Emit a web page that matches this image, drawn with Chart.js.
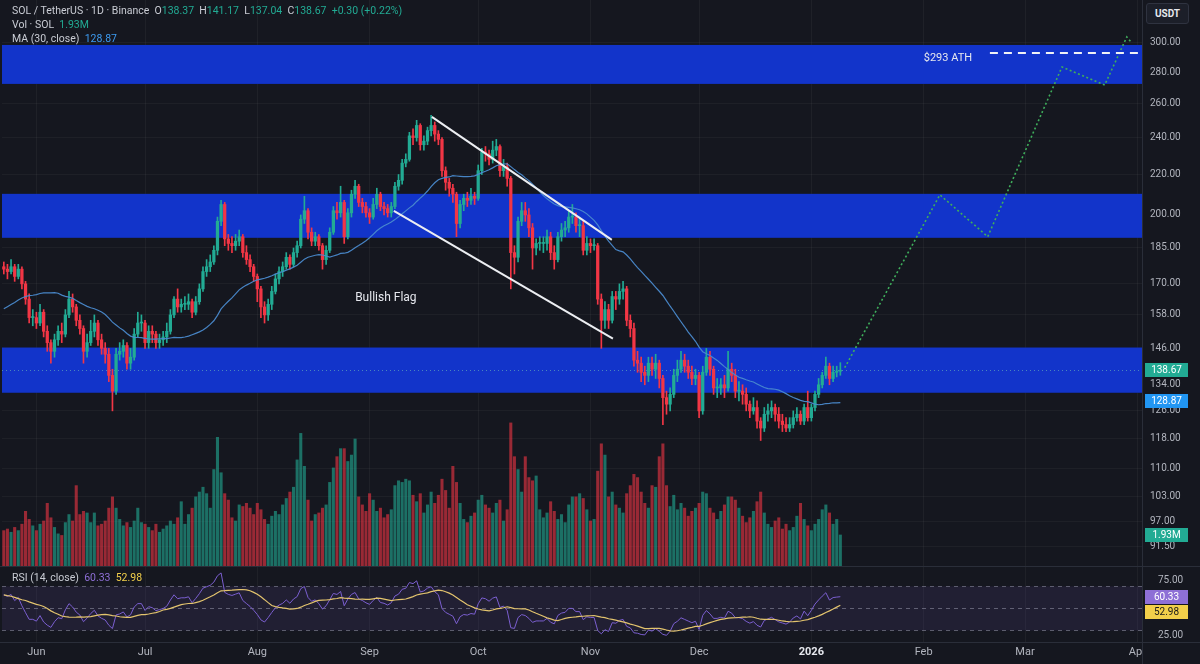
<!DOCTYPE html>
<html>
<head>
<meta charset="utf-8">
<title>SOL / TetherUS 1D</title>
<script src="https://cdn.jsdelivr.net/npm/chart.js@4.4.1/dist/chart.umd.min.js"></script>
<style>
  html, body { margin: 0; padding: 0; background: #15171f; }
  #wrap { position: relative; width: 1200px; height: 664px; overflow: hidden; background: #15171f; }
  #chart { display: block; }
  .legend { position: absolute; left: 12px; font: 10.5px Roboto, sans-serif; color: #c9ccd4; white-space: nowrap; line-height: 13px; }
  .up { color: #22ab94; }
  .ma { color: #3d9bf0; }
  .rsi { color: #8e6fd6; }
  .rsima { color: #f2cf4a; }
  #unit { position: absolute; left: 1146px; top: 3px; width: 41px; height: 19px; border: 1px solid #2f3340;
          border-radius: 3px; background: #1c1f29; color: #e6e8ee; font: bold 10px Roboto, sans-serif;
          text-align: center; line-height: 19px; }
</style>
</head>
<body>
<div id="wrap">
  <canvas id="chart" width="1200" height="664"></canvas>
  <div class="legend" style="top:4px">SOL / TetherUS · 1D · Binance&nbsp; O<span class="up">138.37</span>&nbsp; H<span class="up">141.17</span>&nbsp; L<span class="up">137.04</span>&nbsp; C<span class="up">138.67</span>&nbsp; <span class="up">+0.30 (+0.22%)</span></div>
  <div class="legend" style="top:18px">Vol · SOL&nbsp; <span class="up">1.93M</span></div>
  <div class="legend" style="top:32px">MA (30, close)&nbsp; <span class="ma">128.87</span></div>
  <div class="legend" style="top:571px">RSI (14, close)&nbsp; <span class="rsi">60.33</span>&nbsp; <span class="rsima">52.98</span></div>
  <div id="unit">USDT</div>
</div>
<script>
// daily closes before the visible range (24 Apr - 22 May), only used to warm up MA and RSI
const warmupCloses = [151, 152, 150, 147, 148, 146, 147, 152, 148, 146, 145, 146, 147, 145, 160,
  173, 173, 172, 175, 182, 177, 166, 170, 167, 167, 166, 166, 172, 177];

// visible candles, 23 May 2025 - 9 Jan 2026 (open = previous close)
const closes = [
  176, 175, 177, 173, 176, 170, 164, 157, 157, 155,
  159, 152, 148, 145, 149, 152, 151, 158, 164, 161,
  156, 153, 145, 148, 152, 155, 149, 146, 144, 137,
  132, 144, 145, 147, 141, 143, 151, 155, 155, 148,
  152, 151, 148, 149, 150, 152, 158, 164, 161, 162,
  162, 163, 159, 163, 168, 175, 177, 179, 184, 197,
  205, 189, 187, 186, 188, 190, 183, 180, 177, 173,
  168, 161, 158, 162, 167, 172, 175, 177, 181, 178,
  183, 186, 198, 202, 192, 188, 190, 186, 180, 184,
  192, 202, 201, 206, 190, 201, 210, 214, 206, 204,
  201, 199, 205, 210, 204, 203, 201, 204, 214, 217,
  226, 228, 241, 240, 247, 236, 238, 244, 247, 242,
  239, 222, 216, 213, 210, 196, 205, 208, 207, 209,
  208, 222, 232, 231, 228, 233, 235, 222, 224, 218,
  183, 181, 197, 202, 200, 194, 185, 187, 187, 187,
  190, 183, 180, 190, 193, 194, 199, 199, 195, 195,
  184, 187, 186, 186, 164, 156, 160, 156, 165, 164,
  167, 168, 156, 153, 142, 141, 138, 137, 141, 139,
  141, 136, 130, 128, 131, 137, 139, 142, 140, 138,
  136, 137, 126, 138, 143, 139, 133, 133, 134, 133,
  139, 137, 132, 132, 131, 128, 126, 127, 123, 121,
  125, 126, 127, 125, 123, 122, 121, 122, 124, 125,
  123, 127, 124, 127, 131, 134, 137, 140, 136, 138,
  138.37, 138.67
];
const highs = [
  179, 178, 180, 178, 178, 177, 171, 166, 160, 159,
  162, 160, 154, 149, 151, 154, 155, 160, 167, 166,
  162, 158, 154, 151, 156, 158, 156, 151, 148, 146,
  139, 146, 148, 149, 148, 146, 153, 159, 158, 156,
  154, 154, 152, 151, 152, 155, 160, 165, 168, 164,
  165, 166, 164, 165, 170, 177, 180, 182, 186, 199,
  207, 206, 191, 190, 191, 193, 191, 186, 182, 178,
  174, 169, 163, 164, 169, 174, 177, 179, 183, 182,
  185, 188, 200, 209, 203, 194, 192, 191, 187, 186,
  194, 204, 206, 214, 207, 203, 212, 217, 215, 208,
  206, 203, 208, 213, 211, 206, 205, 206, 216, 220,
  228, 231, 243, 245, 250, 248, 241, 246, 253, 249,
  244, 240, 224, 218, 215, 211, 207, 210, 211, 213,
  211, 225, 234, 235, 233, 238, 239, 236, 228, 226,
  219, 186, 199, 206, 206, 203, 196, 189, 190, 190,
  193, 192, 186, 192, 196, 197, 202, 205, 201, 199,
  197, 190, 189, 189, 187, 166, 163, 162, 167, 167,
  170, 171, 169, 158, 155, 145, 143, 140, 143, 143,
  144, 142, 137, 132, 133, 139, 142, 145, 144, 142,
  140, 139, 138, 140, 146, 145, 140, 136, 136, 137,
  145, 141, 139, 135, 134, 133, 129, 130, 129, 124,
  127, 128, 129, 128, 127, 125, 124, 124, 126, 127,
  126, 128, 132, 128, 132, 136, 138, 143, 141, 140,
  140, 141.17
];
const lows = [
  174, 172, 174, 171, 172, 168, 162, 155, 154, 153,
  154, 150, 145, 141, 143, 147, 148, 150, 157, 159,
  154, 151, 141, 143, 147, 150, 147, 144, 141, 135,
  126, 131, 142, 143, 139, 139, 142, 150, 152, 146,
  146, 148, 146, 146, 147, 148, 151, 157, 159, 159,
  160, 160, 157, 158, 162, 167, 173, 175, 178, 182,
  195, 186, 184, 183, 184, 186, 181, 178, 175, 171,
  163, 157, 155, 156, 160, 166, 170, 173, 176, 176,
  177, 181, 185, 196, 189, 186, 186, 184, 176, 178,
  183, 191, 198, 199, 187, 189, 199, 208, 204, 201,
  199, 196, 198, 203, 202, 200, 199, 199, 203, 212,
  215, 224, 227, 236, 238, 233, 233, 236, 241, 238,
  236, 219, 212, 209, 206, 190, 194, 202, 204, 205,
  205, 207, 220, 227, 225, 226, 230, 219, 219, 214,
  168, 174, 179, 195, 197, 190, 176, 182, 184, 183,
  184, 180, 176, 179, 188, 190, 192, 196, 192, 190,
  182, 182, 183, 184, 162, 146, 153, 153, 155, 160,
  162, 164, 154, 150, 140, 138, 135, 134, 135, 137,
  136, 133, 122, 125, 126, 130, 135, 138, 138, 136,
  134, 134, 124, 125, 137, 137, 131, 130, 131, 130,
  132, 135, 130, 129, 128, 126, 124, 125, 121, 117.5,
  120, 123, 124, 123, 121, 120, 120, 120, 121, 123,
  122, 122, 123, 123, 126, 130, 133, 136, 134, 135,
  136.5, 137.04
];
// volume in millions of SOL
const volumes = [
  2.2, 2.3, 2.1, 2.4, 2.2, 2.6, 3.4, 2.9, 2.5, 2.2,
  2.6, 2.8, 3.9, 3.0, 2.4, 2.0, 1.9, 2.7, 3.2, 2.8,
  5.0, 3.2, 3.4, 3.3, 2.7, 3.3, 2.5, 2.6, 2.8, 3.6,
  4.3, 3.6, 2.9, 2.5, 2.7, 2.4, 2.8, 3.6, 2.7, 2.6,
  2.4, 2.2, 2.6, 2.1, 2.3, 2.5, 2.8, 2.6, 3.0, 4.0,
  2.6, 3.2, 3.6, 4.3, 4.6, 4.9, 4.5, 3.6, 6.0, 8.0,
  5.8, 4.5, 4.1, 3.0, 2.8, 3.8, 3.7, 3.9, 3.6, 3.2,
  3.9, 3.5, 2.9, 2.6, 3.1, 3.4, 3.2, 3.8, 4.2, 4.6,
  4.9, 6.6, 8.25, 6.2, 4.1, 2.8, 3.2, 3.3, 3.6, 3.8,
  5.2, 6.1, 6.8, 7.3, 7.3, 6.5, 6.9, 7.9, 4.3, 3.8,
  3.4, 4.5, 4.1, 3.4, 3.6, 3.0, 3.2, 3.5, 5.0, 5.3,
  5.2, 5.4, 5.3, 4.4, 4.0, 4.5, 3.3, 3.8, 4.6, 3.9,
  4.4, 5.4, 4.7, 3.6, 6.2, 5.2, 3.9, 2.9, 2.7, 3.1,
  3.3, 4.1, 4.4, 3.8, 3.6, 3.3, 3.9, 4.1, 2.8, 3.5,
  8.9, 6.8, 6.0, 4.6, 6.8, 5.5, 5.3, 5.6, 3.5, 3.0,
  3.3, 4.0, 3.4, 2.9, 3.2, 2.7, 3.8, 4.3, 4.3, 4.5,
  4.2, 3.5, 2.8, 2.9, 5.9, 7.6, 6.9, 4.3, 4.6, 3.8,
  3.6, 3.3, 4.5, 5.0, 5.7, 5.5, 4.6, 3.9, 3.6, 5.0,
  4.9, 6.8, 7.6, 5.0, 3.7, 4.4, 3.5, 3.9, 3.6, 3.1,
  3.4, 3.6, 3.9, 4.6, 4.5, 3.6, 3.3, 2.9, 3.4, 3.8,
  4.3, 4.3, 4.1, 3.6, 3.1, 2.7, 3.0, 3.4, 4.0, 4.6,
  3.3, 2.6, 2.4, 2.8, 3.0, 2.3, 2.6, 2.2, 2.4, 3.1,
  3.9, 2.9, 2.5, 2.2, 2.6, 2.9, 3.5, 3.8, 3.3, 2.6,
  2.9, 1.93
];

// time axis: day index 0 = 23 May 2025
const monthTicks = [9, 39, 70, 101, 131, 162, 192, 223, 254, 282, 313];
const monthLabels = ['Jun', 'Jul', 'Aug', 'Sep', 'Oct', 'Nov', 'Dec', '2026', 'Feb', 'Mar', 'Apr'];
const priceTicks = [300, 280, 260, 240, 220, 200, 185, 170, 158, 146, 134, 126, 118, 110, 103, 97, 91.5];
const rsiTicks = [75, 25];

// drawings
const zoneLows = [272.4, 189.5, 131.5];
const zoneHighs = [298.6, 210.2, 146.3];
const flagUpperX = [118.2, 167.9];
const flagUpperY = [252, 188.6];
const flagLowerX = [107.7, 168.2];
const flagLowerY = [201.9, 149.4];
const pathX = [232.2, 258.5, 271.7, 292.2, 304.0, 310.1, 311.5];
const pathY = [139.5, 209.7, 190, 283.5, 271.7, 304.3, 300];
const athX = [272.3, 314.3];
const athPrice = 293;
const noteTexts = ['$293 ATH', 'Bullish Flag'];
const noteX = [260.7, 105.5];
const noteY = [289.6, 164.5];

// last values shown in the price scale tags
const lastClose = 138.67, lastMa = 128.87, lastVol = 1.93, lastRsi = 60.33, lastRsiMa = 52.98;

const UP = '#22ab94', DOWN = '#f23645';

function sma(values, len) {
  return values.map((v, i) => {
    if (i < len - 1) return null;
    let s = 0;
    for (let k = i - len + 1; k <= i; k++) {
      if (values[k] == null) return null;
      s += values[k];
    }
    return s / len;
  });
}

function rsi(values, len) {
  const out = values.map(() => null);
  let gain = 0, loss = 0;
  for (let i = 1; i <= len; i++) {
    const d = values[i] - values[i - 1];
    if (d > 0) gain += d; else loss -= d;
  }
  gain /= len; loss /= len;
  out[len] = 100 - 100 / (1 + gain / loss);
  for (let i = len + 1; i < values.length; i++) {
    const d = values[i] - values[i - 1];
    gain = (gain * (len - 1) + Math.max(d, 0)) / len;
    loss = (loss * (len - 1) + Math.max(-d, 0)) / len;
    out[i] = loss === 0 ? 100 : 100 - 100 / (1 + gain / loss);
  }
  return out;
}

const all = warmupCloses.concat(closes);
const off = warmupCloses.length;
const opens = closes.map((c, i) => all[off + i - 1]);
const ma30 = sma(all, 30).slice(off);
const rsiAll = rsi(all, 14);
const rsiLine = rsiAll.slice(off);
const rsiMa = sma(rsiAll, 14).slice(off);

const isUp = closes.map((c, i) => c >= opens[i]);
const xy = (xs, ys) => xs.map((x, i) => ({ x: x, y: ys[i] }));

// volume drawn on a hidden axis spanning the whole plot; 0 sits at the bottom of the price pane
const VOL_PER_PX = 0.0622;
const volAxisMax = 566 * VOL_PER_PX;
const volAxisMin = -76 * VOL_PER_PX;

function tag(ctx, x, yPix, text, bg, fg) {
  ctx.fillStyle = bg;
  ctx.fillRect(x, Math.round(yPix - 7), 43, 14);
  ctx.fillStyle = fg;
  ctx.font = '10px Roboto';
  ctx.textAlign = 'center';
  ctx.textBaseline = 'middle';
  ctx.fillText(text, x + 21.5, yPix + 0.5);
}

const overlay = {
  id: 'overlay',
  beforeDatasetsDraw(chart) {
    const { ctx, chartArea: a, scales } = chart;
    const y = scales.y, yRsi = scales.yRsi;
    ctx.save();
    // support / resistance zones
    ctx.fillStyle = 'rgb(18, 52, 202)';
    zoneLows.forEach((lo, i) => {
      const top = y.getPixelForValue(zoneHighs[i]);
      const bot = y.getPixelForValue(lo);
      ctx.fillRect(a.left, top, a.right - a.left, bot - top);
    });
    // RSI band and levels
    const r70 = yRsi.getPixelForValue(70), r30 = yRsi.getPixelForValue(30);
    ctx.fillStyle = 'rgba(126, 87, 194, 0.12)';
    ctx.fillRect(a.left, r70, a.right - a.left, r30 - r70);
    ctx.strokeStyle = 'rgba(175, 175, 195, 0.45)';
    ctx.lineWidth = 1;
    ctx.setLineDash([4, 4]);
    [70, 50, 30].forEach(v => {
      const py = Math.round(yRsi.getPixelForValue(v)) + 0.5;
      ctx.beginPath(); ctx.moveTo(a.left, py); ctx.lineTo(a.right, py); ctx.stroke();
    });
    // last price line
    ctx.strokeStyle = 'rgba(120, 200, 180, 0.55)';
    ctx.setLineDash([1, 3]);
    const lp = Math.round(y.getPixelForValue(lastClose)) + 0.5;
    ctx.beginPath(); ctx.moveTo(a.left, lp); ctx.lineTo(a.right, lp); ctx.stroke();
    ctx.restore();
  },
  afterDraw(chart) {
    const { ctx, chartArea: a, scales } = chart;
    const x = scales.x, y = scales.y, yRsi = scales.yRsi, yVol = scales.yVol;
    ctx.save();
    // time axis stops at the price scale
    ctx.fillStyle = '#15171f';
    ctx.fillRect(a.right + 1, a.bottom + 1, chart.width - a.right, chart.height - a.bottom);
    // pane separators
    ctx.strokeStyle = '#2a2e39';
    ctx.lineWidth = 1;
    const sep = Math.round(y.bottom) + 0.5;
    ctx.beginPath(); ctx.moveTo(0, sep); ctx.lineTo(chart.width, sep); ctx.stroke();
    const bot = Math.round(a.bottom) + 0.5;
    ctx.beginPath(); ctx.moveTo(0, bot); ctx.lineTo(chart.width, bot); ctx.stroke();
    const rx = Math.round(a.right) + 0.5;
    ctx.beginPath(); ctx.moveTo(rx, 0); ctx.lineTo(rx, chart.height); ctx.stroke();

    // text notes
    ctx.fillStyle = '#e6e8ee';
    ctx.textAlign = 'center';
    ctx.textBaseline = 'middle';
    noteTexts.forEach((t, i) => {
      ctx.font = (i === 0 ? '11px' : '12px') + ' Roboto';
      ctx.fillText(t, x.getPixelForValue(noteX[i]), y.getPixelForValue(noteY[i]));
    });

    // scale tags
    const tx = a.right + 3;
    tag(ctx, tx, y.getPixelForValue(lastClose), lastClose.toFixed(2), UP, '#ffffff');
    tag(ctx, tx, y.getPixelForValue(lastMa), lastMa.toFixed(2), '#2196f3', '#ffffff');
    tag(ctx, tx, yVol.getPixelForValue(lastVol), lastVol.toFixed(2) + 'M', UP, '#ffffff');
    const p1 = yRsi.getPixelForValue(lastRsi);
    const p2 = Math.max(yRsi.getPixelForValue(lastRsiMa), p1 + 15);
    tag(ctx, tx, p1, lastRsi.toFixed(2), '#8e6fd6', '#ffffff');
    tag(ctx, tx, p2, lastRsiMa.toFixed(2), '#f2cf4a', '#1a1a1a');
    ctx.restore();
  }
};

// fixed scale width, and no extra room for edge labels so the panes fill the plot height
const fitRight = s => { s.width = 58; s.paddingTop = 0; s.paddingBottom = 0; };

new Chart(document.getElementById('chart'), {
  type: 'bar',
  data: {
    datasets: [
      {
        type: 'line', label: 'ATH', data: xy(athX, athX.map(() => athPrice)),
        borderColor: '#f0f2f6', borderWidth: 2, borderDash: [8, 6], pointRadius: 0, yAxisID: 'y', order: 1
      },
      {
        type: 'line', label: 'Path', data: xy(pathX, pathY),
        borderColor: '#3fae5c', borderWidth: 1.6, borderDash: [2, 2.5], pointRadius: 0, yAxisID: 'y', order: 1
      },
      {
        type: 'line', label: 'Flag top', data: xy(flagUpperX, flagUpperY),
        borderColor: '#eceef2', borderWidth: 2, pointRadius: 0, yAxisID: 'y', order: 2
      },
      {
        type: 'line', label: 'Flag bottom', data: xy(flagLowerX, flagLowerY),
        borderColor: '#eceef2', borderWidth: 2, pointRadius: 0, yAxisID: 'y', order: 2
      },
      {
        type: 'line', label: 'RSI MA', data: xy(closes.map((c, i) => i), rsiMa),
        borderColor: '#e3c46e', borderWidth: 1.2, pointRadius: 0, yAxisID: 'yRsi', order: 4
      },
      {
        type: 'line', label: 'RSI', data: xy(closes.map((c, i) => i), rsiLine),
        borderColor: '#7b5fd0', borderWidth: 1, pointRadius: 0, yAxisID: 'yRsi', order: 5
      },
      {
        type: 'line', label: 'MA 30', data: xy(closes.map((c, i) => i), ma30),
        borderColor: 'rgba(74, 138, 206, 0.95)', borderWidth: 1.2, pointRadius: 0, yAxisID: 'y', order: 6
      },
      {
        label: 'Body', data: closes.map((c, i) => ({ x: i, y: [Math.min(opens[i], c), Math.max(opens[i], c)] })),
        backgroundColor: isUp.map(u => u ? UP : DOWN), barThickness: 2.6, minBarLength: 1,
        grouped: false, yAxisID: 'y', order: 7
      },
      {
        label: 'Wick', data: closes.map((c, i) => ({ x: i, y: [lows[i], highs[i]] })),
        backgroundColor: isUp.map(u => u ? UP : DOWN), barThickness: 1,
        grouped: false, yAxisID: 'y', order: 8
      },
      {
        label: 'Volume', data: volumes.map((v, i) => ({ x: i, y: v })),
        backgroundColor: isUp.map(u => u ? 'rgba(34, 171, 148, 0.6)' : 'rgba(242, 54, 69, 0.6)'),
        barThickness: 2.4, grouped: false, yAxisID: 'yVol', order: 10
      }
    ]
  },
  options: {
    responsive: false,
    animation: false,
    devicePixelRatio: 1,
    events: [],
    layout: { padding: { left: 2, right: 0, top: 0, bottom: 0 } },
    plugins: { legend: { display: false }, tooltip: { enabled: false } },
    scales: {
      x: {
        type: 'linear', min: -0.5, max: 314.3, offset: false,
        grid: { color: 'rgba(255,255,255,0.045)', drawTicks: false, offset: false },
        border: { display: false },
        afterBuildTicks: s => { s.ticks = monthTicks.map(v => ({ value: v })); },
        afterFit: s => { s.height = 22; s.paddingLeft = 0; s.paddingRight = 0; },
        ticks: {
          autoSkip: false, maxRotation: 0, padding: 4,
          callback: v => monthLabels[monthTicks.indexOf(v)],
          color: c => (c.tick && c.tick.label === '2026') ? '#e6e8ee' : '#b2b5be',
          font: c => ({ family: 'Roboto', size: 11, weight: (c.tick && c.tick.label === '2026') ? 'bold' : 'normal' })
        }
      },
      y: {
        type: 'logarithmic', position: 'right', stack: 'pane', stackWeight: 566,
        min: 87.4, max: 332,
        grid: { color: 'rgba(255,255,255,0.04)', drawTicks: false },
        border: { display: false },
        afterBuildTicks: s => { s.ticks = priceTicks.map(v => ({ value: v })); },
        afterFit: fitRight,
        ticks: { autoSkip: false, padding: 8, color: '#b2b5be', font: { family: 'Roboto', size: 10 }, callback: v => Number(v).toFixed(2) }
      },
      yRsi: {
        type: 'linear', position: 'right', stack: 'pane', stackWeight: 76,
        min: 19.5, max: 88.5,
        grid: { display: false },
        border: { display: false },
        afterBuildTicks: s => { s.ticks = rsiTicks.map(v => ({ value: v })); },
        afterFit: fitRight,
        ticks: { autoSkip: false, padding: 8, color: '#b2b5be', font: { family: 'Roboto', size: 10 }, callback: v => Number(v).toFixed(2) }
      },
      yVol: {
        type: 'linear', position: 'left', display: false,
        min: volAxisMin, max: volAxisMax
      }
    }
  },
  plugins: [overlay]
});
</script>
</body>
</html>
